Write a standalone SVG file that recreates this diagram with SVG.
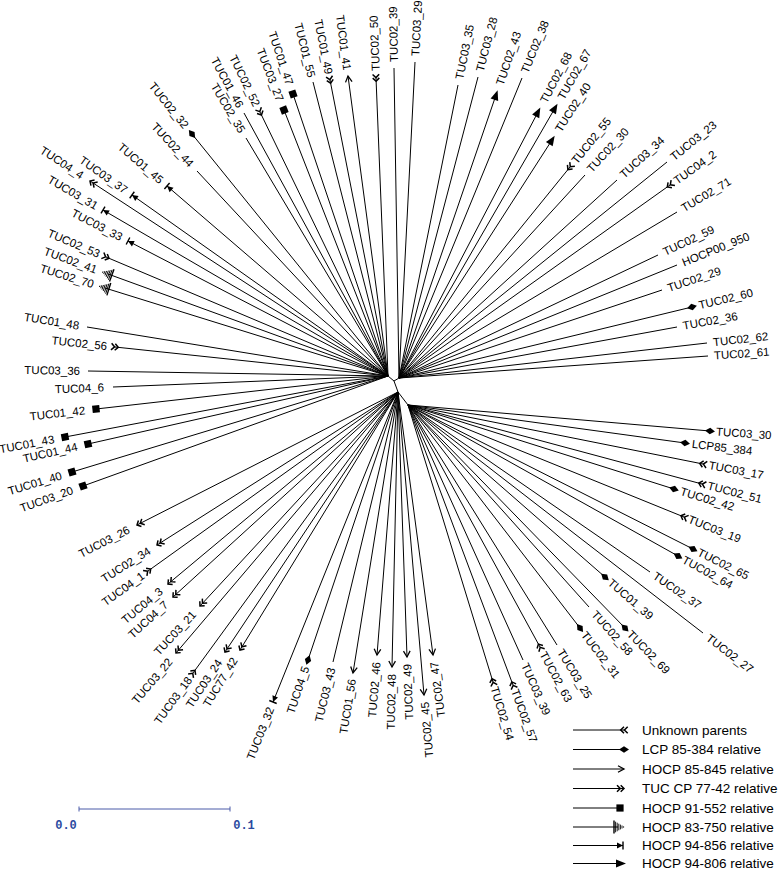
<svg xmlns="http://www.w3.org/2000/svg" width="778" height="872" viewBox="0 0 778 872">
<style>
text{font-family:"Liberation Sans",Arial,sans-serif;font-size:11.5px;fill:#000}
.e{text-anchor:end}
#connectors line{stroke:#000;stroke-width:1;fill:none}
.dia{marker-end:url(#m-dia)}.sq{marker-end:url(#m-sq)}.arr{marker-end:url(#m-arr)}.tri{marker-end:url(#m-tri)}
.dco{marker-end:url(#m-dco)}.dci{marker-end:url(#m-dci)}.fan{marker-end:url(#m-fan)}.bar{marker-end:url(#m-bar)}
#legend line{stroke:#000;stroke-width:1}
#legend text{font-size:13.5px}
.sc{font-family:"Liberation Mono","Courier New",monospace;font-size:12px;font-weight:bold;fill:#2a4aa0;text-anchor:middle}
</style>
<defs>
<marker id="m-dia" markerUnits="userSpaceOnUse" orient="auto" markerWidth="20" markerHeight="20" viewBox="-10 -10 20 20" refX="0" refY="0"><path d="M-5,0L0,-3.3L5,0L0,3.3Z" fill="#000"/></marker>
<marker id="m-sq" markerUnits="userSpaceOnUse" orient="auto" markerWidth="20" markerHeight="20" viewBox="-10 -10 20 20" refX="0" refY="0"><rect x="-3.6" y="-3.6" width="7.2" height="7.2" fill="#000"/></marker>
<marker id="m-arr" markerUnits="userSpaceOnUse" orient="auto" markerWidth="20" markerHeight="20" viewBox="-10 -10 20 20" refX="0" refY="0"><path d="M-6,-3.3L0,0L-6,3.3" fill="none" stroke="#000" stroke-width="1.3"/></marker>
<marker id="m-tri" markerUnits="userSpaceOnUse" orient="auto" markerWidth="20" markerHeight="20" viewBox="-10 -10 20 20" refX="0" refY="0"><path d="M-5,-4L5,0L-5,4Z" fill="#000"/></marker>
<marker id="m-dco" markerUnits="userSpaceOnUse" orient="auto" markerWidth="20" markerHeight="20" viewBox="-10 -10 20 20" refX="0" refY="0"><path d="M-7,-3.3L-3.7,0L-7,3.3M-3.3,-3.3L0,0L-3.3,3.3" fill="none" stroke="#000" stroke-width="1.5"/></marker>
<marker id="m-dci" markerUnits="userSpaceOnUse" orient="auto" markerWidth="20" markerHeight="20" viewBox="-10 -10 20 20" refX="0" refY="0"><path d="M0,-3.3L-3.3,0L0,3.3M3.7,-3.3L0.4,0L3.7,3.3" fill="none" stroke="#000" stroke-width="1.5"/></marker>
<marker id="m-fan" markerUnits="userSpaceOnUse" orient="auto" markerWidth="24" markerHeight="24" viewBox="-12 -12 24 24" refX="0" refY="0"><path d="M-4,-6.5V6.5" stroke="#000" stroke-width="1.4"/><path d="M-2.4,-5.3V5.3M-0.8,-4.3V4.3M0.8,-3.3V3.3M2.4,-2.4V2.4M4,-1.5V1.5M5.6,-0.7V0.7" stroke="#000" stroke-width="0.9"/></marker>
<marker id="m-bar" markerUnits="userSpaceOnUse" orient="auto" markerWidth="20" markerHeight="20" viewBox="-10 -10 20 20" refX="0" refY="0"><path d="M-6,-3L0,0L-6,3Z" fill="#000"/><path d="M0,-4V4" stroke="#000" stroke-width="1.4"/></marker>
</defs>
<rect width="778" height="872" fill="#fff"/>
<g id="connectors">
<line x1="388" y1="376" x2="394" y2="381"/>
<line x1="394" y1="381" x2="399" y2="378"/>
<line x1="394" y1="381" x2="398" y2="392"/>
<line x1="398" y1="392" x2="408" y2="405"/>
<line x1="388" y1="376" x2="87" y2="327"/>
<line class="dci" x1="388" y1="376" x2="115" y2="347"/>
<line x1="388" y1="376" x2="88" y2="371"/>
<line x1="388" y1="376" x2="113" y2="387"/>
<line class="sq" x1="388" y1="376" x2="96" y2="409"/>
<line class="sq" x1="388" y1="376" x2="65" y2="437"/>
<line class="sq" x1="388" y1="376" x2="88" y2="444"/>
<line class="sq" x1="388" y1="376" x2="72" y2="472"/>
<line class="sq" x1="388" y1="376" x2="83" y2="486"/>
<line class="fan" x1="388" y1="376" x2="105" y2="288"/>
<line class="fan" x1="388" y1="376" x2="108" y2="274"/>
<line class="dci" x1="388" y1="376" x2="106" y2="257"/>
<line class="bar" x1="388" y1="376" x2="128" y2="241"/>
<line class="bar" x1="388" y1="376" x2="103" y2="210"/>
<line class="bar" x1="388" y1="376" x2="132" y2="195"/>
<line class="dco" x1="388" y1="376" x2="90" y2="181"/>
<line class="bar" x1="388" y1="376" x2="167" y2="186"/>
<line x1="388" y1="376" x2="197" y2="171"/>
<line class="dia" x1="388" y1="376" x2="192" y2="134"/>
<line x1="388" y1="376" x2="246" y2="138"/>
<line x1="388" y1="376" x2="244" y2="113"/>
<line class="dci" x1="388" y1="376" x2="260" y2="112"/>
<line class="sq" x1="388" y1="376" x2="284" y2="110"/>
<line class="sq" x1="388" y1="376" x2="293" y2="94"/>
<line x1="388" y1="376" x2="313" y2="82"/>
<line class="dci" x1="388" y1="376" x2="330" y2="80"/>
<line class="arr" x1="388" y1="376" x2="348" y2="76"/>
<line class="dci" x1="388" y1="376" x2="376" y2="78"/>
<line x1="399" y1="378" x2="394" y2="68"/>
<line x1="399" y1="378" x2="415" y2="62"/>
<line x1="399" y1="378" x2="458" y2="85"/>
<line x1="399" y1="378" x2="478" y2="77"/>
<line class="tri" x1="399" y1="378" x2="496" y2="95"/>
<line x1="399" y1="378" x2="522" y2="78"/>
<line class="tri" x1="399" y1="378" x2="538" y2="112"/>
<line class="tri" x1="399" y1="378" x2="555" y2="108"/>
<line class="tri" x1="399" y1="378" x2="552" y2="140"/>
<line class="dci" x1="399" y1="378" x2="570" y2="167"/>
<line x1="399" y1="378" x2="585" y2="175"/>
<line x1="399" y1="378" x2="617" y2="180"/>
<line x1="399" y1="378" x2="667" y2="162"/>
<line class="dci" x1="399" y1="378" x2="670" y2="185"/>
<line x1="399" y1="378" x2="677" y2="212"/>
<line x1="399" y1="378" x2="658" y2="255"/>
<line x1="399" y1="378" x2="677" y2="265"/>
<line x1="399" y1="378" x2="662" y2="290"/>
<line class="dia" x1="399" y1="378" x2="692" y2="307"/>
<line x1="399" y1="378" x2="677" y2="327"/>
<line x1="399" y1="378" x2="707" y2="343"/>
<line x1="399" y1="378" x2="708" y2="356"/>
<line class="dia" x1="408" y1="405" x2="710" y2="431"/>
<line class="dia" x1="408" y1="405" x2="685" y2="443"/>
<line class="dci" x1="408" y1="405" x2="703" y2="464"/>
<line class="dci" x1="408" y1="405" x2="702" y2="484"/>
<line class="dia" x1="408" y1="405" x2="674" y2="489"/>
<line class="dci" x1="408" y1="405" x2="684" y2="517"/>
<line class="dia" x1="408" y1="405" x2="693" y2="549"/>
<line class="dia" x1="408" y1="405" x2="678" y2="556"/>
<line x1="408" y1="405" x2="650" y2="572"/>
<line x1="408" y1="405" x2="703" y2="633"/>
<line class="dia" x1="408" y1="405" x2="605" y2="577"/>
<line class="dia" x1="408" y1="405" x2="625" y2="628"/>
<line x1="408" y1="405" x2="589" y2="607"/>
<line class="dia" x1="408" y1="405" x2="580" y2="628"/>
<line x1="408" y1="405" x2="557" y2="645"/>
<line class="dci" x1="408" y1="405" x2="540" y2="647"/>
<line x1="408" y1="405" x2="523" y2="660"/>
<line class="dci" x1="408" y1="405" x2="513" y2="685"/>
<line class="dci" x1="408" y1="405" x2="493" y2="682"/>
<line class="arr" x1="398" y1="392" x2="433" y2="655"/>
<line class="arr" x1="398" y1="392" x2="424" y2="695"/>
<line class="arr" x1="398" y1="392" x2="407" y2="657"/>
<line class="arr" x1="398" y1="392" x2="392" y2="667"/>
<line class="arr" x1="398" y1="392" x2="377" y2="655"/>
<line class="arr" x1="398" y1="392" x2="353" y2="673"/>
<line x1="398" y1="392" x2="333" y2="662"/>
<line class="dia" x1="398" y1="392" x2="308" y2="660"/>
<line class="bar" x1="398" y1="392" x2="273" y2="702"/>
<line class="dco" x1="398" y1="392" x2="240" y2="650"/>
<line class="dco" x1="398" y1="392" x2="225" y2="652"/>
<line class="dci" x1="398" y1="392" x2="193" y2="673"/>
<line class="dco" x1="398" y1="392" x2="176" y2="653"/>
<line class="dco" x1="398" y1="392" x2="200" y2="606"/>
<line class="dco" x1="398" y1="392" x2="173" y2="597"/>
<line class="dco" x1="398" y1="392" x2="168" y2="584"/>
<line class="dci" x1="398" y1="392" x2="148" y2="571"/>
<line class="dco" x1="398" y1="392" x2="157" y2="545"/>
<line class="dco" x1="398" y1="392" x2="137" y2="525"/>
</g>
<g id="TUC01_48"><text class="e" transform="translate(87,327) rotate(9.25)" x="-8" y="4">TUC01_48</text></g>
<g id="TUC02_56"><text class="e" transform="translate(115,347) rotate(6.06)" x="-8" y="4">TUC02_56</text></g>
<g id="TUC03_36"><text class="e" transform="translate(88,371) rotate(0.95)" x="-8" y="4">TUC03_36</text></g>
<g id="TUC04_6"><text class="e" transform="translate(113,387) rotate(-2.29)" x="-9" y="4">TUC04_6</text></g>
<g id="TUC01_42"><text class="e" transform="translate(96,409) rotate(-6.45)" x="-11" y="4">TUC01_42</text></g>
<g id="TUC01_43"><text class="e" transform="translate(65,437) rotate(-10.7)" x="-11" y="4">TUC01_43</text></g>
<g id="TUC01_44"><text class="e" transform="translate(88,444) rotate(-12.77)" x="-11" y="4">TUC01_44</text></g>
<g id="TUC01_40"><text class="e" transform="translate(72,472) rotate(-16.9)" x="-11" y="4">TUC01_40</text></g>
<g id="TUC03_20"><text class="e" transform="translate(83,486) rotate(-19.83)" x="-11" y="4">TUC03_20</text></g>
<g id="TUC02_70"><text class="e" transform="translate(105,288) rotate(17.27)" x="-12" y="4">TUC02_70</text></g>
<g id="TUC02_41"><text class="e" transform="translate(108,274) rotate(20.02)" x="-12" y="4">TUC02_41</text></g>
<g id="TUC02_53"><text class="e" transform="translate(106,257) rotate(22.88)" x="-7" y="4">TUC02_53</text></g>
<g id="TUC03_33"><text class="e" transform="translate(128,241) rotate(27.44)" x="-7" y="4">TUC03_33</text></g>
<g id="TUC03_31"><text class="e" transform="translate(103,210) rotate(30.22)" x="-7" y="4">TUC03_31</text></g>
<g id="TUC03_37"><text class="e" transform="translate(132,195) rotate(35.26)" x="-7" y="4">TUC03_37</text></g>
<g id="TUC04_4"><text class="e" transform="translate(90,181) rotate(33.2)" x="-9" y="4">TUC04_4</text></g>
<g id="TUC01_45"><text class="e" transform="translate(167,186) rotate(40.69)" x="-7" y="4">TUC01_45</text></g>
<g id="TUC02_44"><text class="e" transform="translate(197,171) rotate(47.03)" x="-8" y="4">TUC02_44</text></g>
<g id="TUC02_32"><text class="e" transform="translate(192,134) rotate(51)" x="-9" y="4">TUC02_32</text></g>
<g id="TUC02_35"><text class="e" transform="translate(246,138) rotate(59.17)" x="-7" y="4">TUC02_35</text></g>
<g id="TUC01_46"><text class="e" transform="translate(244,113) rotate(61.3)" x="-7" y="4">TUC01_46</text></g>
<g id="TUC02_52"><text class="e" transform="translate(260,112) rotate(64.13)" x="-7" y="4">TUC02_52</text></g>
<g id="TUC03_27"><text class="e" transform="translate(284,110) rotate(68.65)" x="-10" y="4">TUC03_27</text></g>
<g id="TUC01_47"><text class="e" transform="translate(293,94) rotate(71.38)" x="-10" y="4">TUC01_47</text></g>
<g id="TUC01_55"><text class="e" transform="translate(313,82) rotate(75.69)" x="-5" y="4">TUC01_55</text></g>
<g id="TUC01_49"><text class="e" transform="translate(330,80) rotate(78.91)" x="-6" y="4">TUC01_49</text></g>
<g id="TUC01_41"><text class="e" transform="translate(348,76) rotate(82.41)" x="-6" y="4">TUC01_41</text></g>
<g id="TUC02_50"><text transform="translate(376,78) rotate(-92.31)" x="7" y="4">TUC02_50</text></g>
<g id="TUC02_39"><text transform="translate(394,68) rotate(-90.92)" x="6" y="4">TUC02_39</text></g>
<g id="TUC03_29"><text transform="translate(415,62) rotate(-87.1)" x="6" y="4">TUC03_29</text></g>
<g id="TUC03_35"><text transform="translate(458,85) rotate(-78.62)" x="6" y="4">TUC03_35</text></g>
<g id="TUC03_28"><text transform="translate(478,77) rotate(-75.29)" x="6" y="4">TUC03_28</text></g>
<g id="TUC02_43"><text transform="translate(496,95) rotate(-71.08)" x="11" y="4">TUC02_43</text></g>
<g id="TUC02_38"><text transform="translate(522,78) rotate(-67.71)" x="6" y="4">TUC02_38</text></g>
<g id="TUC02_68"><text transform="translate(538,112) rotate(-62.41)" x="11" y="4">TUC02_68</text></g>
<g id="TUC02_67"><text transform="translate(555,108) rotate(-59.98)" x="11" y="4">TUC02_67</text></g>
<g id="TUC02_40"><text transform="translate(552,140) rotate(-57.26)" x="11" y="4">TUC02_40</text></g>
<g id="TUC02_55"><text transform="translate(570,167) rotate(-50.98)" x="6" y="4">TUC02_55</text></g>
<g id="TUC02_30"><text transform="translate(585,175) rotate(-47.5)" x="6" y="4">TUC02_30</text></g>
<g id="TUC03_34"><text transform="translate(617,180) rotate(-42.25)" x="6" y="4">TUC03_34</text></g>
<g id="TUC03_23"><text transform="translate(667,162) rotate(-38.87)" x="6" y="4">TUC03_23</text></g>
<g id="TUC04_2"><text transform="translate(670,185) rotate(-35.47)" x="6" y="4">TUC04_2</text></g>
<g id="TUC02_71"><text transform="translate(677,212) rotate(-30.85)" x="6" y="4">TUC02_71</text></g>
<g id="TUC02_59"><text transform="translate(658,255) rotate(-25.4)" x="6" y="4">TUC02_59</text></g>
<g id="HOCP00_950"><text transform="translate(677,265) rotate(-22.12)" x="6" y="4">HOCP00_950</text></g>
<g id="TUC02_29"><text transform="translate(662,290) rotate(-18.5)" x="6" y="4">TUC02_29</text></g>
<g id="TUC02_60"><text transform="translate(692,307) rotate(-13.62)" x="7" y="4">TUC02_60</text></g>
<g id="TUC02_36"><text transform="translate(677,327) rotate(-10.4)" x="6" y="4">TUC02_36</text></g>
<g id="TUC02_62"><text transform="translate(707,343) rotate(-6.48)" x="6" y="4">TUC02_62</text></g>
<g id="TUC02_61"><text transform="translate(708,356) rotate(-4.07)" x="6" y="4">TUC02_61</text></g>
<g id="TUC03_30"><text transform="translate(710,431) rotate(4.03)" x="6" y="4">TUC03_30</text></g>
<g id="LCP85_384"><text transform="translate(685,443) rotate(6.89)" x="7" y="4">LCP85_384</text></g>
<g id="TUC03_17"><text transform="translate(703,464) rotate(10.51)" x="6" y="4">TUC03_17</text></g>
<g id="TUC02_51"><text transform="translate(702,484) rotate(14.31)" x="6" y="4">TUC02_51</text></g>
<g id="TUC02_42"><text transform="translate(674,489) rotate(16.78)" x="7" y="4">TUC02_42</text></g>
<g id="TUC03_19"><text transform="translate(684,517) rotate(21.47)" x="5" y="4">TUC03_19</text></g>
<g id="TUC02_65"><text transform="translate(693,549) rotate(26.32)" x="6" y="4">TUC02_65</text></g>
<g id="TUC02_64"><text transform="translate(678,556) rotate(28.77)" x="6" y="4">TUC02_64</text></g>
<g id="TUC02_37"><text transform="translate(650,572) rotate(34.24)" x="5" y="4">TUC02_37</text></g>
<g id="TUC02_27"><text transform="translate(703,633) rotate(37.46)" x="6" y="4">TUC02_27</text></g>
<g id="TUC01_39"><text transform="translate(605,577) rotate(40.87)" x="6" y="4">TUC01_39</text></g>
<g id="TUC02_69"><text transform="translate(625,628) rotate(45.67)" x="6" y="4">TUC02_69</text></g>
<g id="TUC02_58"><text transform="translate(589,607) rotate(48.06)" x="7" y="4">TUC02_58</text></g>
<g id="TUC02_31"><text transform="translate(580,628) rotate(52.38)" x="6" y="4">TUC02_31</text></g>
<g id="TUC03_25"><text transform="translate(557,645) rotate(58.33)" x="6" y="4">TUC03_25</text></g>
<g id="TUC02_63"><text transform="translate(540,647) rotate(61.63)" x="6" y="4">TUC02_63</text></g>
<g id="TUC03_39"><text transform="translate(523,660) rotate(66.06)" x="4" y="4">TUC03_39</text></g>
<g id="TUC02_57"><text transform="translate(513,685) rotate(69.84)" x="5" y="4">TUC02_57</text></g>
<g id="TUC02_54"><text transform="translate(493,682) rotate(73.42)" x="5" y="4">TUC02_54</text></g>
<g id="TUC02_47"><text class="e" transform="translate(433,655) rotate(-97.58)" x="-7" y="4">TUC02_47</text></g>
<g id="TUC02_45"><text class="e" transform="translate(424,695) rotate(-94.9)" x="-7" y="4">TUC02_45</text></g>
<g id="TUC02_49"><text class="e" transform="translate(407,657) rotate(-91.95)" x="-7" y="4">TUC02_49</text></g>
<g id="TUC02_48"><text class="e" transform="translate(392,667) rotate(-88.75)" x="-7" y="4">TUC02_48</text></g>
<g id="TUC02_46"><text class="e" transform="translate(377,655) rotate(-85.43)" x="-7" y="4">TUC02_46</text></g>
<g id="TUC01_56"><text class="e" transform="translate(353,673) rotate(-80.9)" x="-6" y="4">TUC01_56</text></g>
<g id="TUC03_43"><text class="e" transform="translate(333,662) rotate(-76.46)" x="-6" y="4">TUC03_43</text></g>
<g id="TUC04_5"><text class="e" transform="translate(308,660) rotate(-71.44)" x="-7" y="4">TUC04_5</text></g>
<g id="TUC03_32"><text class="e" transform="translate(273,702) rotate(-68.04)" x="-6" y="4">TUC03_32</text></g>
<g id="TUC77_42"><text class="e" transform="translate(240,650) rotate(-58.52)" x="-10" y="4">TUC77_42</text></g>
<g id="TUC03_24"><text class="e" transform="translate(225,652) rotate(-56.36)" x="-10" y="4">TUC03_24</text></g>
<g id="TUC03_18"><text class="e" transform="translate(193,673) rotate(-53.89)" x="-6" y="4">TUC03_18</text></g>
<g id="TUC03_22"><text class="e" transform="translate(176,653) rotate(-49.62)" x="-9" y="4">TUC03_22</text></g>
<g id="TUC03_21"><text class="e" transform="translate(200,606) rotate(-47.22)" x="-9" y="4">TUC03_21</text></g>
<g id="TUC04_7"><text class="e" transform="translate(173,597) rotate(-42.34)" x="-9" y="4">TUC04_7</text></g>
<g id="TUC04_3"><text class="e" transform="translate(168,584) rotate(-39.86)" x="-9" y="4">TUC04_3</text></g>
<g id="TUC04_1"><text class="e" transform="translate(148,571) rotate(-35.6)" x="-6" y="4">TUC04_1</text></g>
<g id="TUC02_34"><text class="e" transform="translate(157,545) rotate(-32.42)" x="-9" y="4">TUC02_34</text></g>
<g id="TUC03_26"><text class="e" transform="translate(137,525) rotate(-27.01)" x="-9" y="4">TUC03_26</text></g>
<g id="legend">
<line class="dci" x1="573" y1="730" x2="624" y2="730"/><text x="642" y="734.5">Unknown parents</text>
<line class="dia" x1="573" y1="749.5" x2="624" y2="749.5"/><text x="642" y="754">LCP 85-384 relative</text>
<line class="arr" x1="573" y1="769" x2="624" y2="769"/><text x="642" y="773.5">HOCP 85-845 relative</text>
<line class="dco" x1="573" y1="788.5" x2="624" y2="788.5"/><text x="642" y="793">TUC CP 77-42 relative</text>
<line class="sq" x1="573" y1="808" x2="620" y2="808"/><text x="642" y="812.5">HOCP 91-552 relative</text>
<line class="fan" x1="573" y1="827" x2="618" y2="827"/><text x="642" y="831.5">HOCP 83-750 relative</text>
<line class="bar" x1="573" y1="845.5" x2="623" y2="845.5"/><text x="642" y="850">HOCP 94-856 relative</text>
<line class="tri" x1="573" y1="863.5" x2="621" y2="863.5"/><text x="642" y="868">HOCP 94-806 relative</text>
</g>
<g id="scale">
<path d="M79,809H230M79,806.5V811.5M230,806.5V811.5" stroke="#4a5aa8" stroke-width="1" fill="none"/>
<text class="sc" x="66" y="829">0.0</text>
<text class="sc" x="244" y="829">0.1</text>
</g>
</svg>
